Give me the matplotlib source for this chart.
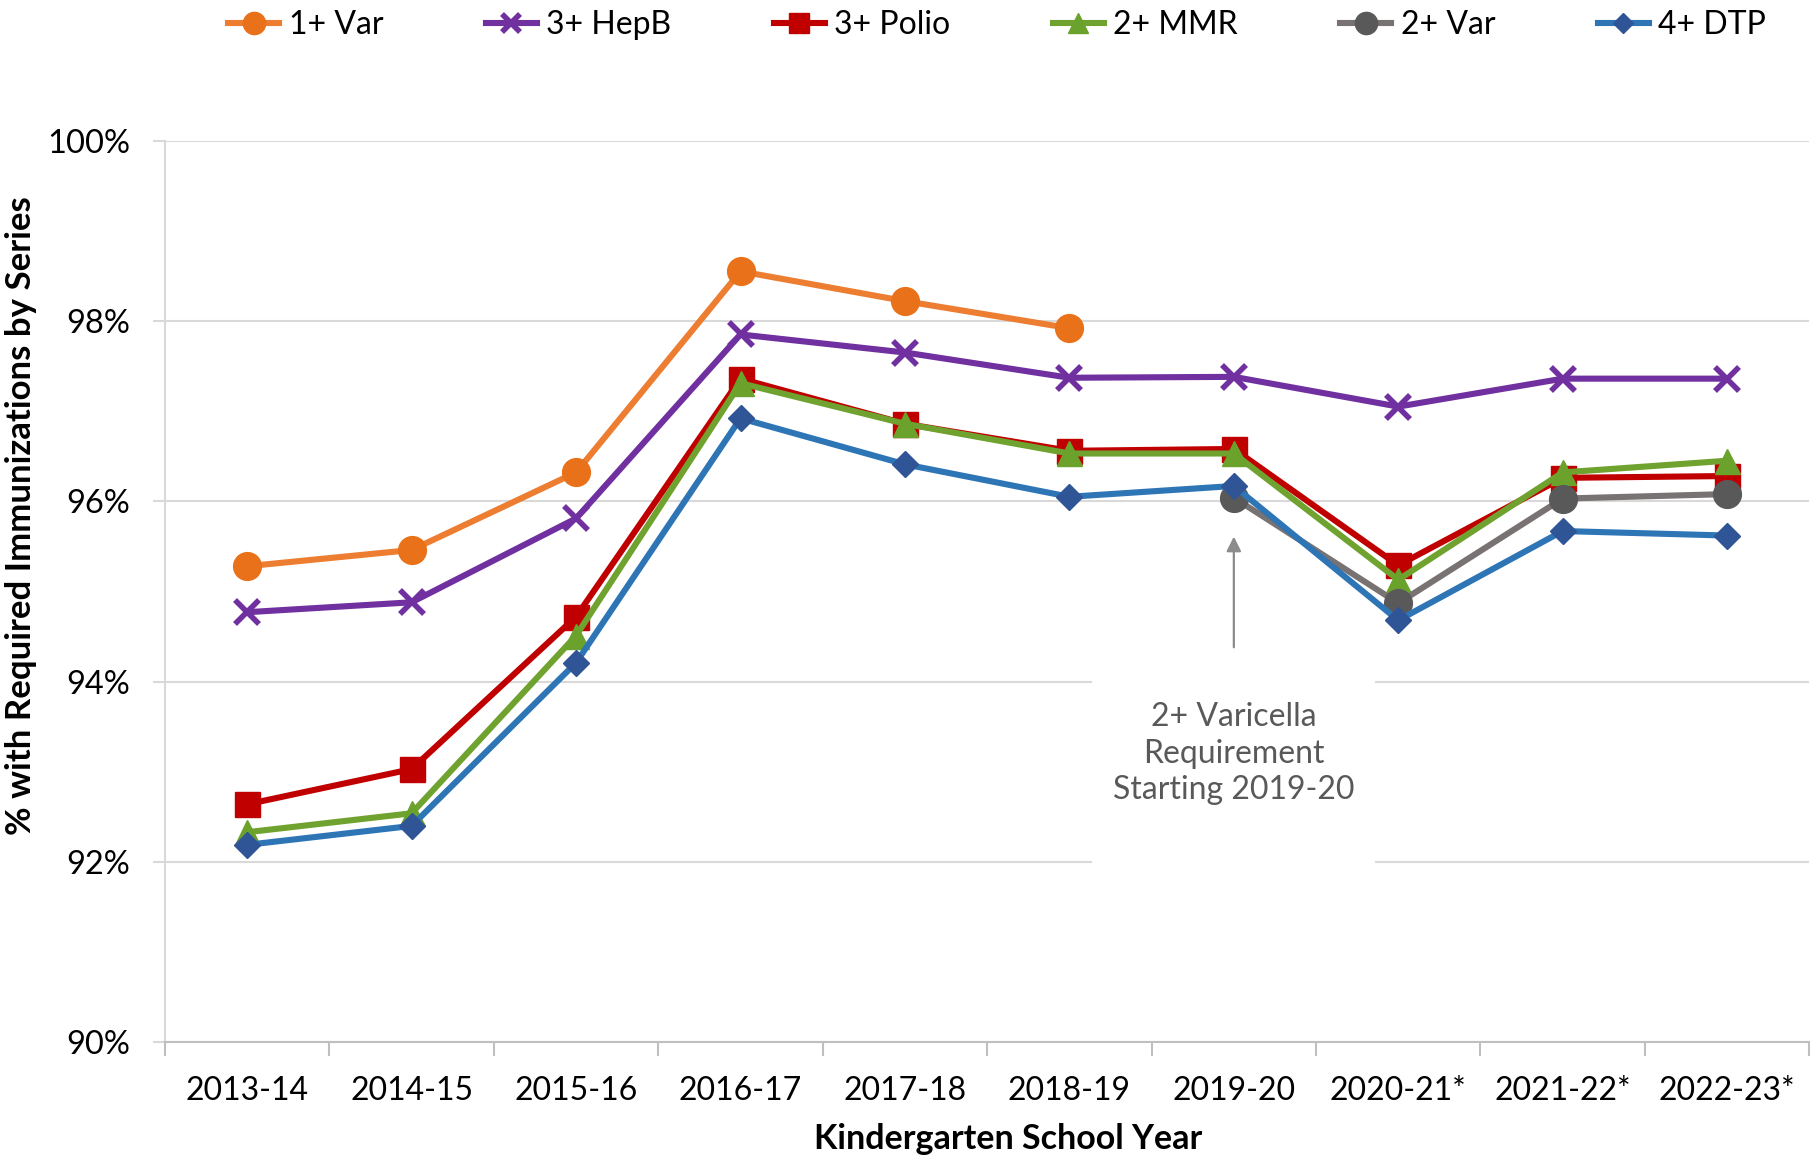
import numpy as np
import matplotlib as mpl
import matplotlib.pyplot as plt
from matplotlib.patches import Rectangle

mpl.rcParams["font.family"] = ["Lato", "DejaVu Sans"]

years = ["2013-14", "2014-15", "2015-16", "2016-17", "2017-18", "2018-19",
         "2019-20", "2020-21*", "2021-22*", "2022-23*"]

var1 = [95.28, 95.46, 96.32, 98.55, 98.22, 97.92, None, None, None, None]
hepb3 = [94.77, 94.88, 95.81, 97.85, 97.65, 97.37, 97.38, 97.05, 97.36, 97.36]
polio3 = [92.64, 93.03, 94.72, 97.36, 96.86, 96.56, 96.58, 95.29, 96.26, 96.28]
mmr2 = [92.33, 92.54, 94.51, 97.31, 96.86, 96.53, 96.53, 95.13, 96.32, 96.45]
var2 = [None, None, None, None, None, None, 96.04, 94.87, 96.03, 96.08]
dtp4 = [92.19, 92.40, 94.21, 96.92, 96.41, 96.05, 96.17, 94.68, 95.67, 95.62]

series = [
    ("1+ Var", var1, "#ED7D31", "#E97119", "o", 20),
    ("3+ HepB", hepb3, "#7030A0", "#7030A0", "x", 17),
    ("3+ Polio", polio3, "#C00000", "#C00000", "s", 18),
    ("2+ MMR", mmr2, "#6FA22E", "#6AA22C", "^", 18),
    ("2+ Var", var2, "#787272", "#595959", "o", 20),
    ("4+ DTP", dtp4, "#2E75B6", "#2F5597", "D", 13),
]


def to_arr(vals):
    return np.array([np.nan if v is None else v for v in vals], dtype=float)


fig = plt.figure(figsize=(18.13, 11.62), dpi=100)
ax = fig.add_axes([0.091, 0.103, 0.907, 0.776])

x = np.arange(len(years))
handles = []
for name, vals, lc, mc, mk, ms in series:
    kw = dict(markeredgewidth=4) if mk == "x" else dict(markeredgecolor=mc)
    h, = ax.plot(x, to_arr(vals), color=lc, lw=4.4, marker=mk, ms=ms,
                 markerfacecolor=mc, label=name, zorder=3, **kw)
    handles.append(h)

ax.set_xlim(-0.5, len(years) - 0.5)
ax.set_ylim(90, 100)
ax.set_yticks(np.arange(90, 101, 2))
ax.set_yticklabels([f"{v}%" for v in range(90, 101, 2)], fontsize=23.5)
ax.yaxis.grid(True, color="#D9D9D9", lw=1.5, zorder=0)
ax.set_axisbelow(True)

ax.set_xticks(np.arange(-0.5, len(years), 1))
ax.set_xticklabels([])
ax.set_xticks(x, minor=True)
ax.set_xticklabels(years, minor=True, fontsize=23)
ax.tick_params(axis="x", which="major", length=10, width=1.5, color="#BFBFBF")
ax.tick_params(axis="x", which="minor", length=0, pad=24)
ax.tick_params(axis="y", length=9, width=1.5, color="#D9D9D9", pad=16)

for s in ("top", "right"):
    ax.spines[s].set_visible(False)
ax.spines["left"].set_color("#D9D9D9")
ax.spines["left"].set_linewidth(1.5)
ax.spines["bottom"].set_color("#BFBFBF")
ax.spines["bottom"].set_linewidth(1.5)

ax.set_ylabel("% with Required Immunizations by Series", fontsize=25,
              fontweight="bold", labelpad=1)
ax.yaxis.set_label_coords(-0.078, 0.584)
ax.set_xlabel("Kindergarten School Year", fontsize=24.5, fontweight="bold")
ax.xaxis.set_label_coords(0.513, -0.090)

# annotation box that blanks the gridlines behind it
ax.add_patch(Rectangle((5.14, 91.75), 1.72, 2.55, facecolor="white",
                       edgecolor="none", zorder=1))
ax.text(6.0, 93.2, "2+ Varicella\nRequirement\nStarting 2019-20",
        ha="center", va="center", fontsize=23, color="#595959",
        linespacing=1.28, zorder=2)
ax.annotate("", xy=(6.0, 95.64), xytext=(6.0, 94.35),
            arrowprops=dict(arrowstyle="-|>", color="#8C8C8C", lw=1.6,
                            mutation_scale=22), zorder=2)

fig.legend(handles=handles, loc="upper center", ncol=6,
           bbox_to_anchor=(0.55, 1.016), frameon=False, fontsize=23,
           handlelength=1.6, columnspacing=3.2, handletextpad=0.3,
           markerscale=0.8)

fig.savefig("out.png", dpi=100, facecolor="white")
